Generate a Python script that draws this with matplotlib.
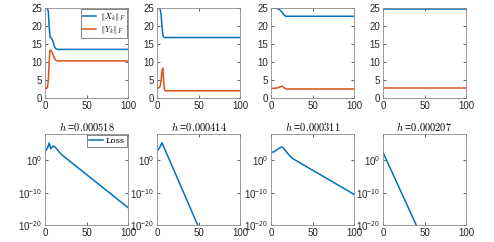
import numpy as np
import matplotlib.pyplot as plt

plt.rcParams['font.family'] = 'Liberation Sans'
plt.rcParams['mathtext.fontset'] = 'cm'

blue = (0.0, 0.447, 0.741)
orange = (0.85, 0.325, 0.098)
grey = '#8c8c8c'

# top row: norms of X_k and Y_k
x_top = [
    [0, 2, 3, 4, 5, 6, 7, 8, 9, 10, 11, 12, 13, 14, 15, 20, 100],
    [0, 2, 3, 4, 5, 6, 7, 8, 9, 10, 15, 100],
    [0, 4, 8, 10, 12, 14, 16, 18, 20, 30, 100],
    [0, 100],
]
X_norm = [
    [25, 25, 24.8, 24, 20, 17, 16.8, 16.5, 16, 15.5, 14.5, 14, 13.7, 13.6, 13.5, 13.5, 13.5],
    [25, 25, 24.9, 24.5, 23, 20, 17.5, 17, 16.8, 16.8, 16.8, 16.8],
    [25, 25, 24.8, 24.6, 24.2, 23.6, 23, 22.7, 22.7, 22.7, 22.7],
    [24.8, 24.8],
]
x_top_y = [
    [0, 2, 3, 4, 5, 6, 7, 8, 9, 10, 11, 12, 13, 14, 15, 20, 100],
    [0, 2, 3, 4, 5, 6, 7, 8, 9, 10, 15, 100],
    [0, 4, 8, 10, 12, 13, 14, 16, 18, 20, 100],
    [0, 100],
]
Y_norm = [
    [2.7, 2.7, 3, 5, 10, 13.2, 13.3, 13, 12.5, 11.8, 11.2, 10.8, 10.5, 10.4, 10.3, 10.3, 10.3],
    [2.7, 2.8, 3, 3.5, 5, 7.5, 8.3, 5, 2.3, 2.0, 2.0, 2.0],
    [2.7, 2.7, 2.8, 3.0, 3.2, 3.3, 3.2, 2.8, 2.5, 2.5, 2.5],
    [2.7, 2.7],
]

# bottom row: loss (log10 of values at key iterations)
h_vals = ['0.000518', '0.000414', '0.000311', '0.000207']
loss_x = [
    [0, 3, 5, 7, 8, 10, 12, 15, 20, 100],
    [0, 3, 6, 49],
    [0, 3, 6, 10, 13, 15, 18, 22, 26, 100],
    [0, 40],
]
loss_log = [
    [2.8, 3.8, 5.4, 3.6, 4.0, 4.5, 4.2, 3.3, 1.8, -14.6],
    [3.0, 3.8, 5.5, -20],
    [2.6, 2.6, 3.1, 3.8, 4.2, 3.9, 2.8, 1.6, 0.6, -10.5],
    [2.5, -20],
]

fig = plt.figure(figsize=(4.94, 2.42), dpi=100)
W, H = 494, 242
lefts = [45, 157, 271, 383]
aw = 83


def style(ax):
    for s in ax.spines.values():
        s.set_color(grey)
        s.set_linewidth(0.6)
    ax.tick_params(direction='in', length=2, width=0.5, colors='#262626',
                   labelsize=7, top=True, right=True, pad=2)
    ax.tick_params(which='minor', length=0)


for i in range(4):
    ax = fig.add_axes([lefts[i] / W, 1 - 98 / H, aw / W, 90 / H])
    ax.plot(x_top[i], X_norm[i], color=blue, lw=1.1, label=r'$\|X_k\|_F$')
    ax.plot(x_top_y[i], Y_norm[i], color=orange, lw=1.1, label=r'$\|Y_k\|_F$')
    ax.set_xlim(0, 100)
    ax.set_ylim(0, 25)
    ax.set_xticks([0, 50, 100])
    ax.set_yticks([0, 5, 10, 15, 20, 25])
    style(ax)
    if i == 0:
        leg = ax.legend(loc='upper right', fontsize=6, handlelength=1.6,
                        handletextpad=0.4, borderpad=0.25, labelspacing=0.1,
                        fancybox=False, edgecolor='#555555', framealpha=1,
                        borderaxespad=0.1)
        leg.get_frame().set_linewidth(0.5)

    ax2 = fig.add_axes([lefts[i] / W, 1 - 225 / H, aw / W, 91 / H])
    ax2.semilogy(loss_x[i], 10.0 ** np.array(loss_log[i]), color=blue, lw=1.1,
                 label='Loss')
    ax2.set_xlim(0, 100)
    ax2.set_ylim(1e-20, 10 ** 8.2)
    ax2.set_xticks([0, 50, 100])
    ax2.set_yticks([1e-20, 1e-10, 1e0])
    ax2.set_title(r'$h$ =' + r'$\mathrm{' + h_vals[i] + '}$', fontsize=7.5, pad=2)
    style(ax2)
    if i == 0:
        leg2 = ax2.legend(loc='upper right', handlelength=1.6,
                          handletextpad=0.4, borderpad=0.25, fancybox=False,
                          edgecolor='#555555', framealpha=1, borderaxespad=0.1,
                          prop={'family': 'serif', 'size': 6})
        leg2.get_frame().set_linewidth(0.5)

fig.savefig('out.png', dpi=100)
